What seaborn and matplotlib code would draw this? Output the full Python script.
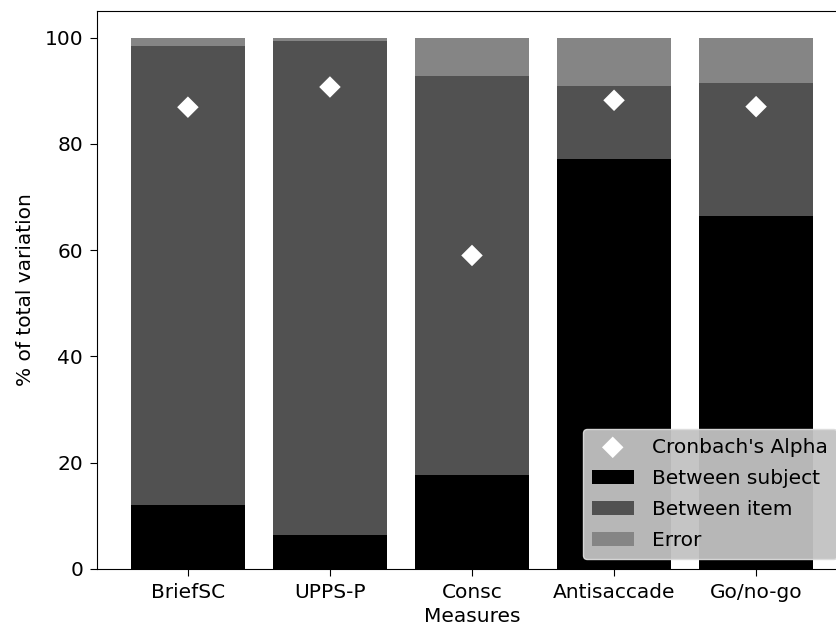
import numpy as np
import pandas as pd
import seaborn as sns
import matplotlib.pyplot as plt

measures = ['BriefSC', 'UPPS-P', 'Consc', 'Antisaccade', 'Go/no-go']
between_subject = [12.1, 6.4, 17.7, 77.1, 66.4]
between_item = [86.4, 93.0, 75.0, 13.7, 25.0]
error = [1.5, 0.6, 7.3, 9.2, 8.6]
cronbach_alpha = [86.9, 90.7, 59.0, 88.2, 87.0]

df = pd.DataFrame({'Measures': measures,
                   'subject': between_subject,
                   'item': between_item,
                   'error': error,
                   'alpha': cronbach_alpha})

plt.rcParams['font.family'] = ['DejaVu Sans']
fig = plt.figure(figsize=(8.37, 6.32), dpi=100)
ax = fig.add_axes([97 / 837, 63 / 632, 750 / 837, 558 / 632])

sns.barplot(data=df, x='Measures', y='subject', color='black', width=0.8,
            saturation=1, ax=ax, label='Between subject')
sns.barplot(data=df, x='Measures', y='item', bottom=df['subject'], color='#515151',
            width=0.8, saturation=1, ax=ax, label='Between item')
sns.barplot(data=df, x='Measures', y='error', bottom=df['subject'] + df['item'],
            color='#858585', width=0.8, saturation=1, ax=ax, label='Error')
sns.scatterplot(data=df, x='Measures', y='alpha', marker='D', color='white', s=120,
                edgecolor='none', ax=ax, label="Cronbach's Alpha", zorder=5)

ax.set_xlim(-0.64, 4.64)
ax.set_ylim(0, 105)
ax.set_yticks([0, 20, 40, 60, 80, 100])
ax.set_xlabel('Measures', fontsize=14.5, labelpad=4)
ax.set_ylabel('% of total variation', fontsize=14.5, labelpad=7)
ax.tick_params(labelsize=14.5, length=5, pad=5)

handles, labels = ax.get_legend_handles_labels()
order = [labels.index("Cronbach's Alpha"), labels.index('Between subject'),
         labels.index('Between item'), labels.index('Error')]
leg = ax.legend([handles[i] for i in order], [labels[i] for i in order],
                loc='lower right', bbox_to_anchor=(1.0, 0.0), fontsize=14.5,
                facecolor='#c2c2c2', framealpha=0.95, edgecolor='#dddddd',
                borderaxespad=0.5, handlelength=2.1, handletextpad=0.9,
                labelspacing=0.6, borderpad=0.45)

fig.savefig('out.png', dpi=100)
